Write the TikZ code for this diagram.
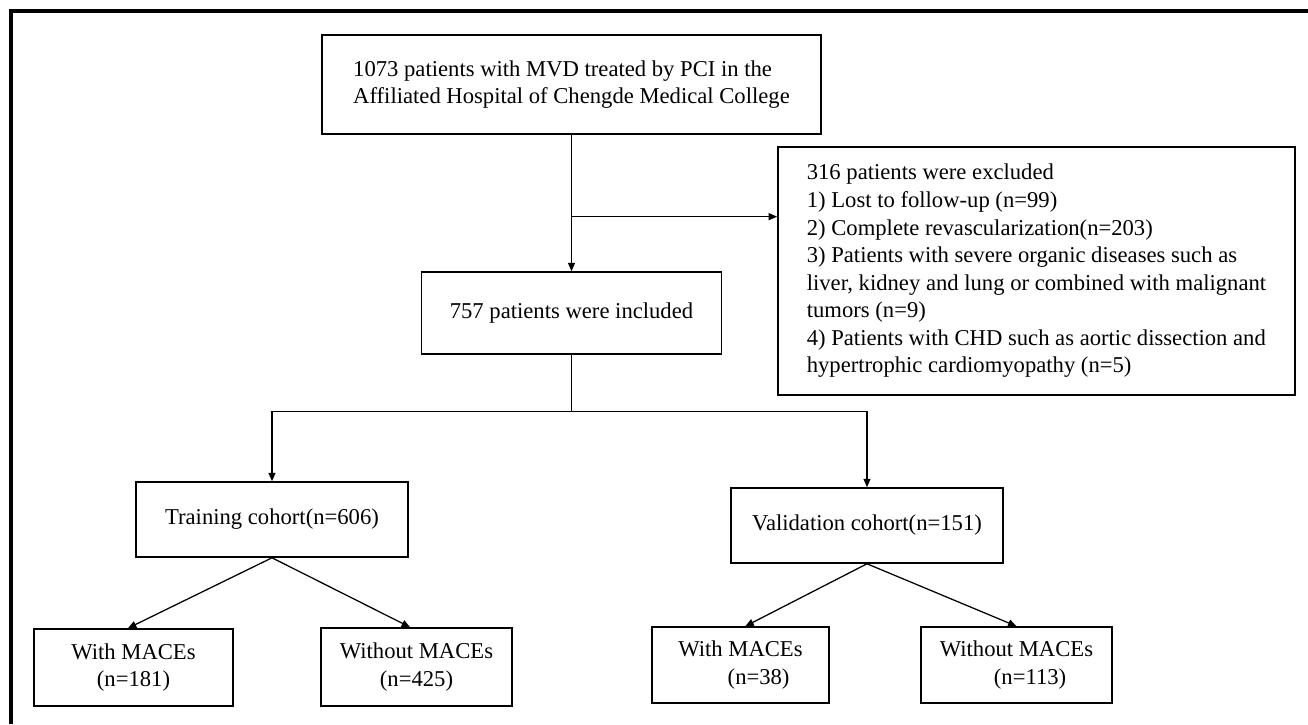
\documentclass[tikz,border=0pt]{standalone}
\usepackage{fontspec}
\setmainfont{Liberation Serif}
\usetikzlibrary{calc,positioning,arrows.meta}

\begin{document}
\begin{tikzpicture}[x=0.025cm,y=-0.025cm]

\tikzstyle{block}=[draw,line width=1.1pt,inner sep=0pt,align=center,font=\fontsize{16.1}{19.6}\selectfont]
\tikzstyle{flow}=[line width=0.9pt,-{Triangle[length=6pt,width=5pt]}]

   \useasboundingbox (0,0) rectangle (1308,724);

   %outer frame (only top and left are visible)
   \draw[line width=2.2pt] (11,724) -- (11,11) -- (1308,11);

   \node (screened) [block,align=left,minimum width=12.475cm,minimum height=2.475cm] at (571.5,84.5)
      {1073 patients with MVD treated by PCI in the\\Affiliated Hospital of Chengde Medical College};

   \node (excluded) [block,align=left,minimum width=12.925cm,minimum height=6.2cm] at (1036.5,271)
      {316 patients were excluded\\
       1) Lost to follow-up (n=99)\\
       2) Complete revascularization(n=203)\\
       3) Patients with severe organic diseases such as\\
       liver, kidney and lung or combined with malignant\\
       tumors (n=9)\\
       4) Patients with CHD such as aortic dissection and\\
       hypertrophic cardiomyopathy (n=5)};

   \node (included) [block,minimum width=7.5cm,minimum height=2.05cm] at (571.5,313) {757 patients were included};

   \node (training) [block,minimum width=6.8cm,minimum height=1.875cm] at (272,519.5) {Training cohort(n=606)};
   \node (validation) [block,minimum width=6.8cm,minimum height=1.875cm] at (867,525.5) {Validation cohort(n=151)};

   \node (train_with) [block,minimum width=4.975cm,minimum height=1.925cm] at (133.5,667.5) {With MACEs\\(n=181)};
   \node (train_without) [block,minimum width=4.775cm,minimum height=1.95cm] at (416.5,667) {Without MACEs\\(n=425)};
   \node (valid_with) [block,minimum width=4.425cm,minimum height=1.9cm] at (740.5,665) {With MACEs\\\hspace*{1.6em}(n=38)};
   \node (valid_without) [block,minimum width=4.775cm,minimum height=1.9cm] at (1016.5,665) {Without MACEs\\\hspace*{1.2em}(n=113)};

   %screening -> included, with the exclusions branching off
   \coordinate (split_top) at ($(screened.south)!0.6!(included.north)$);
   \draw[flow] (screened.south) -- (included.north);
   \draw[flow] (split_top) -- (split_top -| excluded.west);

   %included -> the two cohorts
   \coordinate (split_bottom) at ($(included.south)+(0,56.5)$);
   \draw[line width=0.9pt] (included.south) -- (split_bottom);
   \draw[flow] (split_bottom) -| (training.north);
   \draw[flow] (split_bottom) -| (validation.north);

   %cohorts -> outcomes
   \draw[flow] (training.south) -- ([xshift=-0.14cm]train_with.north);
   \draw[flow] (training.south) -- ([xshift=-0.16cm]train_without.north);
   \draw[flow] (validation.south) -- ([xshift=0.12cm]valid_with.north);
   \draw[flow] (validation.south) -- (valid_without.north);

\end{tikzpicture}
\end{document}
